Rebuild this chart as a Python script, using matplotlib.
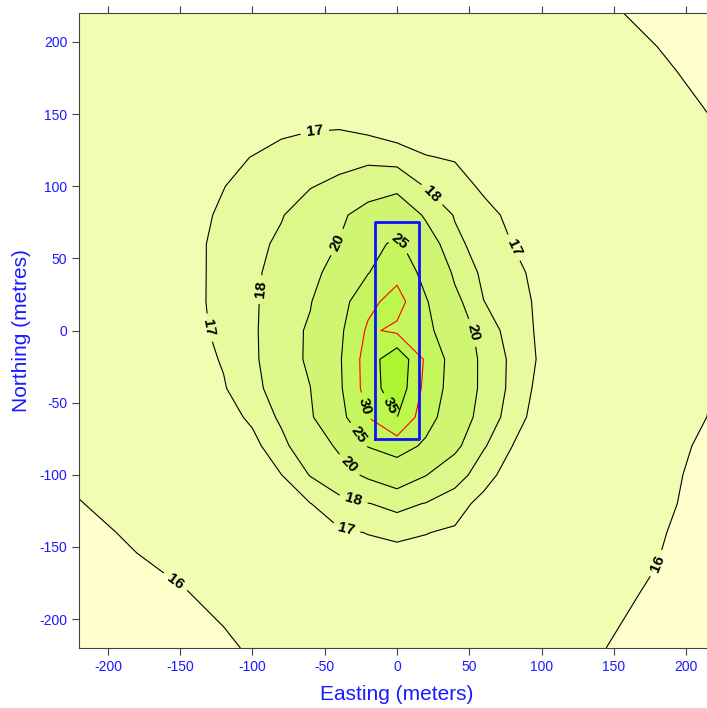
import numpy as np
import matplotlib
matplotlib.use("Agg")
import matplotlib.pyplot as plt

plt.rcParams['font.family'] = ['Liberation Sans', 'DejaVu Sans']
plt.rcParams['axes.unicode_minus'] = False

# grid nodes (metres)
easting = [-220, -180, -140, -120, -100, -80, -60, -40, -20, 0, 20, 40, 60, 80, 100, 120, 140, 180, 220]
northing = [220, 180, 140, 120, 100, 80, 60, 40, 20, 0, -20, -40, -60, -80, -100, -120, -140, -180, -220]

# estimated values at the nodes, one row per northing (top to bottom)
row_220 = [16.30, 16.35, 16.40, 16.42, 16.45, 16.47, 16.48, 16.48, 16.47, 16.45, 16.40, 16.35, 16.30, 16.25, 16.18, 16.10, 16.05, 15.93, 15.80]
row_180 = [16.35, 16.45, 16.55, 16.60, 16.65, 16.70, 16.73, 16.74, 16.70, 16.60, 16.55, 16.50, 16.42, 16.35, 16.28, 16.20, 16.13, 16.05, 15.90]
row_140 = [16.40, 16.55, 16.70, 16.76, 16.83, 16.90, 16.96, 16.98, 16.80, 16.60, 16.55, 16.50, 16.45, 16.40, 16.33, 16.25, 16.18, 16.10, 16.01]
row_120 = [16.45, 16.63, 16.82, 16.91, 17.01, 17.17, 17.33, 17.50, 17.66, 17.40, 17.04, 16.93, 16.83, 16.73, 16.63, 16.53, 16.43, 16.24, 16.02]
row_100 = [16.50, 16.69, 16.89, 16.98, 17.28, 17.61, 17.93, 18.34, 18.90, 19.20, 17.90, 17.37, 16.85, 16.78, 16.68, 16.55, 16.45, 16.25, 16.04]
row_80 = [16.50, 16.71, 16.80, 17.12, 17.52, 17.92, 18.71, 19.60, 20.90, 22.30, 19.60, 17.88, 17.27, 16.80, 16.72, 16.62, 16.52, 16.30, 16.06]
row_60 = [16.50, 16.72, 16.85, 17.22, 17.67, 18.22, 19.12, 20.08, 23.60, 25.80, 21.48, 18.40, 17.30, 16.99, 16.85, 16.72, 16.60, 16.35, 16.07]
row_40 = [16.50, 16.72, 16.82, 17.27, 17.76, 18.49, 19.46, 20.80, 24.83, 28.50, 23.48, 19.53, 17.60, 17.21, 16.75, 16.65, 16.55, 16.32, 16.08]
row_20 = [16.50, 16.72, 16.82, 17.28, 17.79, 18.69, 19.83, 22.93, 28.60, 32.00, 25.36, 20.68, 18.02, 17.38, 16.80, 16.70, 16.60, 16.35, 16.08]
row_0 = [16.50, 16.72, 16.80, 17.21, 17.79, 18.84, 20.36, 23.93, 30.80, 29.00, 26.10, 22.14, 18.78, 17.40, 16.85, 16.72, 16.60, 16.35, 16.07]
row_m20 = [16.45, 16.67, 16.70, 17.07, 17.76, 18.84, 20.40, 24.40, 32.27, 39.00, 29.13, 22.77, 19.26, 17.65, 16.85, 16.70, 16.55, 16.32, 16.04]
row_m40 = [16.40, 16.63, 16.70, 16.93, 17.60, 18.66, 19.97, 24.15, 32.14, 38.50, 28.38, 22.71, 19.26, 17.60, 16.70, 16.55, 16.45, 16.25, 15.99]
row_m60 = [16.30, 16.42, 16.52, 16.60, 17.19, 18.21, 19.59, 23.26, 30.05, 35.10, 27.00, 21.92, 18.89, 17.37, 16.60, 16.45, 16.35, 16.18, 15.97]
row_m80 = [16.20, 16.38, 16.50, 16.60, 16.70, 17.67, 18.89, 20.30, 25.20, 27.30, 24.11, 20.54, 18.11, 16.99, 16.55, 16.40, 16.30, 16.12, 15.92]
row_m100 = [16.10, 16.30, 16.50, 16.60, 16.75, 16.99, 18.06, 19.20, 20.35, 21.50, 20.07, 18.59, 17.33, 16.60, 16.45, 16.32, 16.22, 16.08, 15.90]
row_m120 = [15.98, 16.20, 16.40, 16.50, 16.62, 16.78, 16.98, 17.48, 17.95, 18.40, 17.93, 17.32, 16.75, 16.52, 16.38, 16.26, 16.15, 16.08, 15.85]
row_m140 = [15.80, 16.11, 16.25, 16.33, 16.42, 16.52, 16.64, 16.90, 17.02, 17.10, 17.02, 16.90, 16.62, 16.45, 16.32, 16.22, 16.12, 16.04, 15.80]
row_m180 = [15.55, 15.80, 16.03, 16.12, 16.22, 16.32, 16.40, 16.45, 16.48, 16.50, 16.48, 16.42, 16.35, 16.25, 16.18, 16.12, 16.08, 15.97, 15.70]
row_m220 = [15.40, 15.55, 15.80, 15.93, 16.05, 16.15, 16.25, 16.30, 16.35, 16.35, 16.35, 16.30, 16.25, 16.20, 16.15, 16.08, 16.02, 15.85, 15.60]

levels = [16, 17, 18, 20, 25, 30, 35]
fill_bounds = [15, 16, 17, 18, 20, 25, 30, 35, 40]

# survey box
box_x = [-15, 15]
box_y = [-75, 75]

rows = [row_220, row_180, row_140, row_120, row_100, row_80, row_60, row_40, row_20, row_0,
        row_m20, row_m40, row_m60, row_m80, row_m100, row_m120, row_m140, row_m180, row_m220]
z = np.array(rows)[::-1]
x = np.array(easting)
y = np.array(northing)[::-1]

fill_colors = ['#FFFFCC', '#F0FDB2', '#E7FA9E', '#DCF78A', '#D0F573', '#C6F65E', '#BDF64C', '#AEF531']
line_colors = ['k', 'k', 'k', 'k', 'k', 'red', 'k']

fig = plt.figure(figsize=(7.07, 7.08), dpi=100)
ax = fig.add_axes([79 / 707, 60 / 708, 636 / 707, 635 / 708])

ax.contourf(x, y, z, levels=fill_bounds, colors=fill_colors)
cs = ax.contour(x, y, z, levels=levels, colors=line_colors, linewidths=0.8)

label_pos = [(-57, 138), (80, 57), (-129, 2), (-35, -137),
             (23, 93), (-91, 28), (-30, -117),
             (-39, 60), (49, -2), (-35, -95),
             (2, 62), (-29, -74), (-23.5, -53), (-6, -53),
             (-154, -175), (178, -161)]
labels = ax.clabel(cs, levels, inline=True, fmt='%d', fontsize=11, colors='k',
                   manual=label_pos, inline_spacing=6)
for t in labels:
    t.set_fontweight('bold')

bx = [box_x[0], box_x[1], box_x[1], box_x[0], box_x[0]]
by = [box_y[0], box_y[0], box_y[1], box_y[1], box_y[0]]
ax.plot(bx, by, color='#1010FF', lw=2)

ax.set_xlim(-220, 220)
ax.set_ylim(-220, 220)
ax.set_xticks(np.arange(-200, 201, 50))
ax.set_yticks(np.arange(-200, 201, 50))
ax.tick_params(direction='out', length=5, color='#444444', labelcolor='#1a1aff',
               labelsize=10, top=True)
for s in ax.spines.values():
    s.set_color('#444444')

ax.set_xlabel("Easting (meters)", color='#1a1aff', fontsize=15, labelpad=8)
ax.set_ylabel("Northing (metres)", color='#1a1aff', fontsize=15, labelpad=6)

plt.savefig("out.png", dpi=100)
